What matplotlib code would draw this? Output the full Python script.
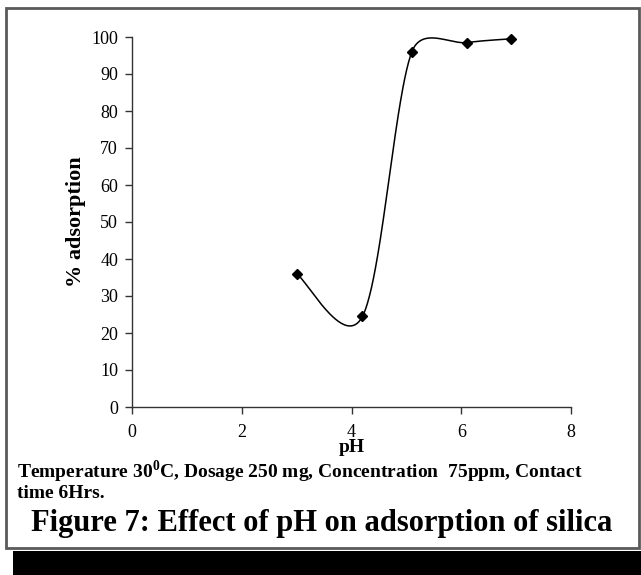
import numpy as np
import matplotlib
matplotlib.use("Agg")
import matplotlib.pyplot as plt
from matplotlib.patches import Rectangle

plt.rcParams['font.family'] = ['Liberation Serif', 'DejaVu Serif']
plt.rcParams['mathtext.fontset'] = 'custom'
plt.rcParams['mathtext.rm'] = 'Liberation Serif'
plt.rcParams['mathtext.bf'] = 'Liberation Serif:bold'

ph = [3.0, 4.2, 5.1, 6.1, 6.9]
adsorption = [36.0, 24.5, 96.0, 98.5, 99.5]
xticks = [0, 2, 4, 6, 8]
yticks = list(range(0, 101, 10))


def excel_smooth(ax, xs, ys, n=80):
    """Excel-style smoothed line: Bezier segments, handles = 1/6 of the
    neighbour chord, clamped to half the segment length (in display space)."""
    P = ax.transData.transform(np.column_stack([xs, ys]))
    m = len(P)
    out = []
    for i in range(m - 1):
        p0 = P[i - 1] if i > 0 else P[i]
        p1 = P[i]
        p2 = P[i + 1]
        p3 = P[i + 2] if i + 2 < m else P[i + 1]
        seg_len = np.hypot(*(p2 - p1))
        h1 = (p2 - p0) / 6.0
        h2 = (p3 - p1) / 6.0
        for h in (h1, h2):
            L = np.hypot(*h)
            if L > seg_len / 2:
                h *= (seg_len / 2) / L
        c1 = p1 + h1
        c2 = p2 - h2
        t = np.linspace(0, 1, n)[:, None]
        seg = ((1 - t) ** 3) * p1 + 3 * ((1 - t) ** 2) * t * c1 + 3 * (1 - t) * t ** 2 * c2 + t ** 3 * p2
        out.append(seg if i == 0 else seg[1:])
    s = ax.transData.inverted().transform(np.vstack(out))
    return s[:, 0], s[:, 1]


W, H = 641, 575
fig = plt.figure(figsize=(W / 100, H / 100), dpi=100)

# border and black bar
fig.patches.append(Rectangle((6 / W, 1 - 548 / H), 633 / W, 540 / H, transform=fig.transFigure,
                             fill=False, edgecolor='#5a5a5a', linewidth=2))
fig.patches.append(Rectangle((13 / W, 0), 628 / W, 24 / H, transform=fig.transFigure,
                             facecolor='black', edgecolor='none'))

ax = fig.add_axes([132 / W, 1 - 407 / H, (571 - 132) / W, (407 - 37) / H])
ax.set_xlim(0, 8)
ax.set_ylim(0, 100)
sx, sy = excel_smooth(ax, ph, adsorption)
ax.plot(sx, sy, color='black', linewidth=1.1, clip_on=False)
ax.plot(ph, adsorption, linestyle='none', marker='D', markersize=5.5, color='black', clip_on=False)

ax.set_xticks(xticks)
ax.set_yticks(yticks)
for s in ['top', 'right']:
    ax.spines[s].set_visible(False)
for s in ['left', 'bottom']:
    ax.spines[s].set_color('#333333')
    ax.spines[s].set_linewidth(1.0)
ax.tick_params(direction='out', length=5, width=1, colors='#333333', labelcolor='black', labelsize=13)
ax.tick_params(axis='x', pad=7)
ax.tick_params(axis='y', pad=5)
ax.set_xlabel('pH', fontsize=14, fontweight='bold', labelpad=-1)
ax.set_ylabel('% adsorption', fontsize=16, fontweight='bold', labelpad=4)

fig.text(17 / W, 1 - 472 / H,
         r'Temperature 30$^{\mathbf{0}}$C, Dosage 250 mg, Concentration  75ppm, Contact',
         fontsize=14, fontweight='bold', ha='left', va='center')
fig.text(17 / W, 1 - 493 / H, 'time 6Hrs.', fontsize=14, fontweight='bold', ha='left', va='center')
fig.text(322 / W, 1 - 524 / H, 'Figure 7: Effect of pH on adsorption of silica',
         fontsize=22, fontweight='bold', ha='center', va='center')

fig.savefig('out.png', dpi=100)
